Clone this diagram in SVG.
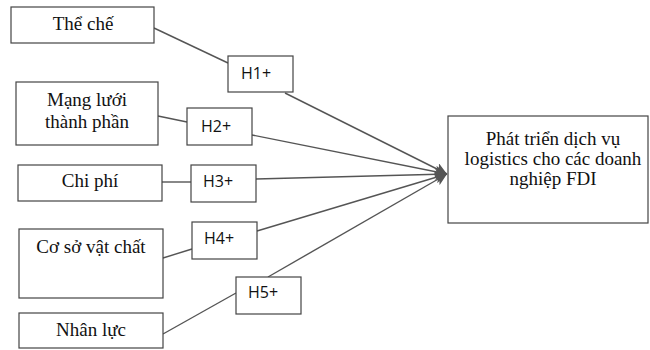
<svg xmlns="http://www.w3.org/2000/svg" width="650" height="350" viewBox="0 0 650 350">
<style>
.box{fill:#fff;stroke:#444;stroke-width:1.2}
.t{font-family:"Liberation Serif","Times New Roman",serif;font-size:19px;fill:#111;text-anchor:middle}
.h{font-family:"Open Sans","Liberation Sans",Arial,sans-serif;font-size:16px;fill:#111}
.ln{stroke:#555;stroke-width:1.4;fill:none}
</style>
<defs>
<marker id="ah" markerUnits="userSpaceOnUse" markerWidth="14" markerHeight="12" refX="12" refY="6" orient="auto">
<path d="M0,0 L12,6 L0,12 L3,6 Z" fill="#555"/>
</marker>
</defs>
<rect width="650" height="350" fill="#fff"/>
<g id="connectors">
<polyline class="ln" points="154,28 228,63"/>
<polyline class="ln" points="285,93 447,174" marker-end="url(#ah)"/>
<polyline class="ln" points="158,116 187,122"/>
<polyline class="ln" points="252,135 447,174" marker-end="url(#ah)"/>
<polyline class="ln" points="162,182 191,182"/>
<polyline class="ln" points="256,179 447,174" marker-end="url(#ah)"/>
<polyline class="ln" points="163,258 192,249"/>
<polyline class="ln" points="257,231 447,174" marker-end="url(#ah)"/>
<polyline class="ln" points="163,334 236,293"/>
<polyline class="ln" points="268,277 447,174" marker-end="url(#ah)"/>
</g>
<g id="the-che"><rect class="box" x="11" y="7" width="143" height="36"/><text class="t" x="83" y="30">Thể chế</text></g>
<g id="mang-luoi"><rect class="box" x="16" y="82" width="142" height="63"/><text class="t" x="87" y="106">Mạng lưới</text><text class="t" x="87" y="128">thành phần</text></g>
<g id="chi-phi"><rect class="box" x="18" y="165" width="144" height="36"/><text class="t" x="90" y="187">Chi phí</text></g>
<g id="co-so"><rect class="box" x="19" y="229" width="144" height="69"/><text class="t" x="91" y="253">Cơ sở vật chất</text></g>
<g id="nhan-luc"><rect class="box" x="19" y="313" width="144" height="35"/><text class="t" x="91" y="336">Nhân lực</text></g>
<g id="h1"><rect class="box" x="228" y="56" width="65" height="36"/><text class="h" x="241" y="79">H1+</text></g>
<g id="h2"><rect class="box" x="187" y="108" width="65" height="37"/><text class="h" x="201" y="132">H2+</text></g>
<g id="h3"><rect class="box" x="191" y="165" width="65" height="37"/><text class="h" x="203" y="187">H3+</text></g>
<g id="h4"><rect class="box" x="192" y="222" width="65" height="37"/><text class="h" x="204" y="244">H4+</text></g>
<g id="h5"><rect class="box" x="236" y="277" width="65" height="37"/><text class="h" x="248" y="298">H5+</text></g>
<g id="target"><rect class="box" x="448" y="116" width="200" height="107"/><text class="t" x="553" y="145">Phát triển dịch vụ</text><text class="t" x="553" y="165">logistics cho các doanh</text><text class="t" x="553" y="185">nghiệp FDI</text></g>
</svg>
